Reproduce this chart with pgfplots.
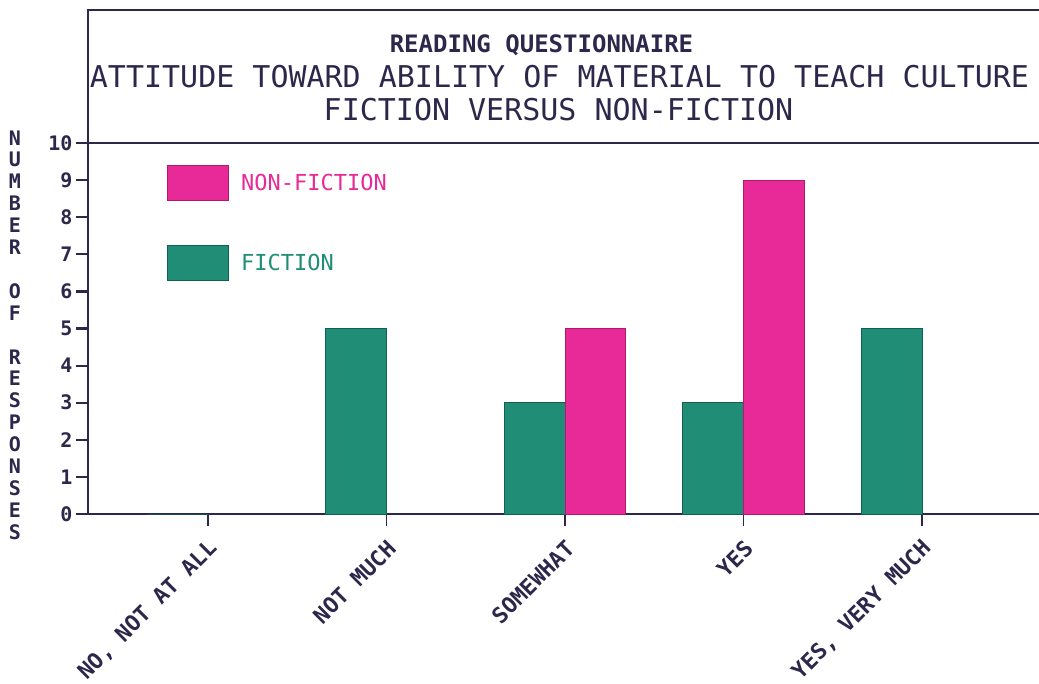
\documentclass[border=0pt]{standalone}
\usepackage{pgfplots}
\pgfplotsset{compat=1.18}
\usepackage{fontspec}
\setmainfont{DejaVu Sans Mono}
\definecolor{pinkc}{RGB}{232,42,152}
\definecolor{pinkd}{RGB}{175,25,110}
\definecolor{tealc}{RGB}{32,142,118}
\definecolor{teald}{RGB}{22,95,80}
\definecolor{ink}{RGB}{45,40,75}
\begin{document}
\begin{tikzpicture}
\begin{axis}[name=ax, scale only axis, width=951pt, height=371pt,
  xmin=-0.672, xmax=4.655, ymin=0, ymax=10,
  axis x line*=bottom, axis y line*=left,
  axis line style={ink, line width=1.8pt},
  ytick={0,...,10}, xtick={0,...,4},
  xticklabels={{NO, NOT AT ALL}, NOT MUCH, SOMEWHAT, YES, {YES, VERY MUCH}},
  tick align=outside, major tick length=12pt,
  xtick pos=bottom, ytick pos=left,
  xtick style={draw=ink, line width=1.8pt},
  ytick style={draw=ink, line width=2.2pt},
  /pgf/number format/assume math mode=true,
  yticklabel style={font=\fontsize{20}{20}\selectfont\bfseries, text=ink},
  xticklabel style={rotate=45, anchor=east, font=\fontsize{22}{22}\selectfont\bfseries, text=ink, xshift=-6pt, yshift=-17pt},
  legend style={draw=none, fill=none, at={(rel axis cs:0.083,0.941)}, anchor=north west,
    inner sep=0pt, row sep=44pt, column sep=12pt, nodes={inner sep=0pt, font=\fontsize{22}{22}\selectfont}},
  legend cell align=left, reverse legend,
  legend image code/.code={\draw[#1] (0pt,-17.5pt) rectangle (61pt,17.5pt);},
  clip=false,
]
\addplot[ybar, bar width=0.34, bar shift=-0.17, fill=tealc, draw=teald, line width=1pt] coordinates {(0,0) (1,5) (2,3) (3,3) (4,5)};
\addlegendentry{\textcolor{tealc}{FICTION}}
\addplot[ybar, bar width=0.34, bar shift=0.17, fill=pinkc, draw=pinkd, line width=1pt] coordinates {(2,5) (3,9)};
\addlegendentry{\textcolor{pinkc}{NON-FICTION}}
\end{axis}
\draw[ink, line width=1.8pt] (ax.north west) -- ++(0,133pt) -- ++(960pt,0);
\draw[ink, line width=1.8pt] (ax.north west) -- ++(960pt,0);
\node[ink, font=\fontsize{24}{24}\selectfont\bfseries] at ([xshift=-22pt,yshift=98pt]ax.north) {READING QUESTIONNAIRE};
\node[ink, font=\fontsize{30}{30}\selectfont] at ([xshift=-4pt,yshift=66pt]ax.north) {ATTITUDE TOWARD ABILITY OF MATERIAL TO TEACH CULTURE};
\node[ink, font=\fontsize{30}{30}\selectfont] at ([xshift=-5pt,yshift=33pt]ax.north) {FICTION VERSUS NON-FICTION};
\node[ink, font=\fontsize{20}{21.9}\selectfont\bfseries, align=center, inner sep=0pt] at ([xshift=-73pt,yshift=179pt]ax.south west)
  {N\\U\\M\\B\\E\\R\\\mbox{}\\O\\F\\\mbox{}\\R\\E\\S\\P\\O\\N\\S\\E\\S};
\pgfresetboundingbox
\path[use as bounding box] ([xshift=-88pt,yshift=-169pt]ax.south west) rectangle ([yshift=143pt]ax.north east);
\end{tikzpicture}
\end{document}
